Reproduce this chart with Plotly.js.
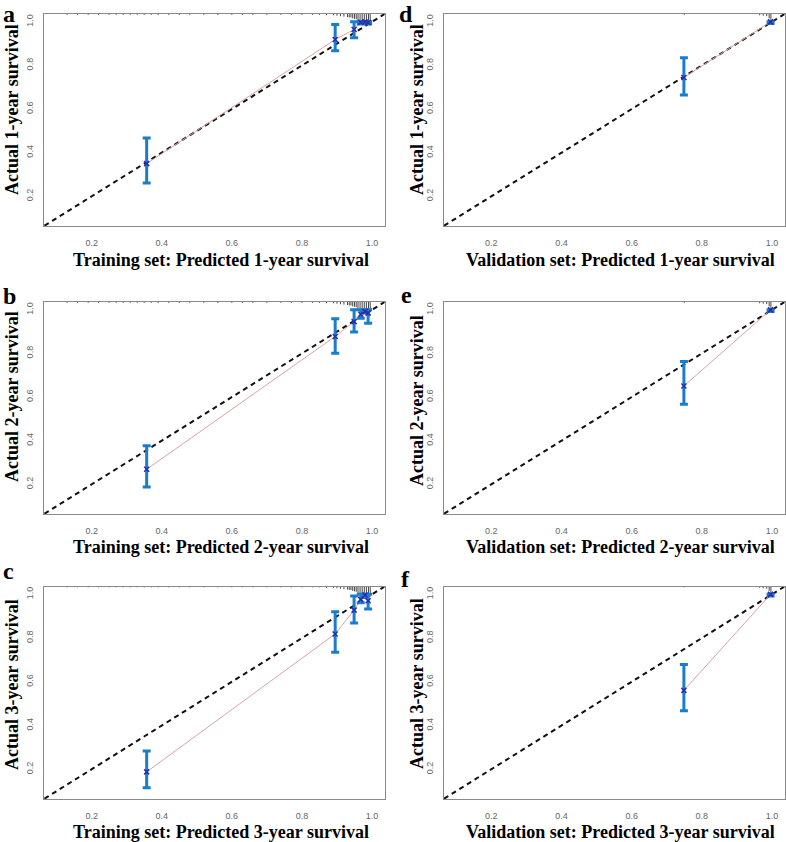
<!DOCTYPE html>
<html>
<head>
<meta charset="utf-8">
<script src="https://cdn.plot.ly/plotly-3.0.1.min.js"></script>
<style>html,body{margin:0;padding:0;background:#fff;}#chart{width:786px;height:842px;}</style>
</head>
<body>
<div id="chart"></div>
<script>
// ---------- data ----------
var panelLetters = ["a", "b", "c", "d", "e", "f"];
var xTitles = [
  "Training set: Predicted 1-year survival",
  "Training set: Predicted 2-year survival",
  "Training set: Predicted 3-year survival",
  "Validation set: Predicted 1-year survival",
  "Validation set: Predicted 2-year survival",
  "Validation set: Predicted 3-year survival"
];
var yTitles = [
  "Actual 1-year survival", "Actual 2-year survival", "Actual 3-year survival",
  "Actual 1-year survival", "Actual 2-year survival", "Actual 3-year survival"
];
var tickVals = [0.2, 0.4, 0.6, 0.8, 1.0];
var tickText = ["0.2", "0.4", "0.6", "0.8", "1.0"];
var refLine = [0, 1.1];

// training set, predicted (x) and observed (y) with CI
var trainPred = [0.357, 0.895, 0.949, 0.968, 0.980, 0.989];
var train1Obs = [0.350, 0.919, 0.965, 0.998, 1.000, 0.997];
var train1Lo  = [0.261, 0.868, 0.927, 0.990, 0.995, 0.990];
var train1Hi  = [0.468, 0.988, 1.000, 1.000, 1.000, 1.000];
var train2Obs = [0.269, 0.878, 0.946, 0.980, 0.992, 0.985];
var train2Lo  = [0.188, 0.801, 0.898, 0.962, 0.985, 0.939];
var train2Hi  = [0.377, 0.959, 1.000, 1.000, 1.000, 1.000];
var train3Obs = [0.188, 0.819, 0.928, 0.977, 0.997, 0.971];
var train3Lo  = [0.115, 0.735, 0.869, 0.962, 0.986, 0.933];
var train3Hi  = [0.284, 0.921, 0.992, 1.000, 1.000, 1.000];

// validation set
var validPred = [0.749, 0.996];
var valid1Obs = [0.745, 1.000];
var valid1Lo  = [0.665, 0.993];
var valid1Hi  = [0.835, 1.000];
var valid2Obs = [0.651, 1.000];
var valid2Lo  = [0.567, 0.993];
var valid2Hi  = [0.763, 1.000];
var valid3Obs = [0.561, 1.000];
var valid3Lo  = [0.468, 0.993];
var valid3Hi  = [0.679, 1.000];

// rug of predicted values (top of each panel): position and relative height
var trainRugX   = [0.13, 0.16, 0.19, 0.22, 0.25, 0.27, 0.29, 0.31, 0.33, 0.35, 0.37, 0.39, 0.42, 0.45, 0.48, 0.52, 0.56, 0.60, 0.63, 0.66, 0.70, 0.74, 0.77, 0.80, 0.83, 0.85, 0.87, 0.89, 0.90, 0.91, 0.92, 0.93, 0.935, 0.94, 0.945, 0.95, 0.955, 0.96, 0.966, 0.972, 0.978, 0.984, 0.99, 0.995];
var trainRugLen = [0.004, 0.004, 0.004, 0.004, 0.004, 0.004, 0.004, 0.004, 0.004, 0.004, 0.004, 0.004, 0.004, 0.004, 0.004, 0.004, 0.004, 0.004, 0.004, 0.004, 0.004, 0.004, 0.004, 0.004, 0.004, 0.004, 0.006, 0.006, 0.008, 0.01, 0.012, 0.014, 0.016, 0.016, 0.02, 0.022, 0.024, 0.03, 0.034, 0.04, 0.044, 0.046, 0.046, 0.046];
var validRugX   = [0.75, 0.965, 0.975, 0.985, 0.992, 0.997];
var validRugLen = [0.004, 0.006, 0.008, 0.01, 0.02, 0.04];

// ---------- layout geometry ----------
var W = 786, H = 842;
var colX = [[44 / W, 384.6 / W], [443.6 / W, 784.6 / W]];
var rowY = [[1 - 226 / H, 1 - 14 / H], [1 - 514 / H, 1 - 302 / H], [1 - 799 / H, 1 - 586.5 / H]];
var axRange = [0.064, 1.036];

var panels = [
  {pred: trainPred, obs: train1Obs, lo: train1Lo, hi: train1Hi, rx: trainRugX, rl: trainRugLen, col: 0, row: 0},
  {pred: trainPred, obs: train2Obs, lo: train2Lo, hi: train2Hi, rx: trainRugX, rl: trainRugLen, col: 0, row: 1},
  {pred: trainPred, obs: train3Obs, lo: train3Lo, hi: train3Hi, rx: trainRugX, rl: trainRugLen, col: 0, row: 2},
  {pred: validPred, obs: valid1Obs, lo: valid1Lo, hi: valid1Hi, rx: validRugX, rl: validRugLen, col: 1, row: 0},
  {pred: validPred, obs: valid2Obs, lo: valid2Lo, hi: valid2Hi, rx: validRugX, rl: validRugLen, col: 1, row: 1},
  {pred: validPred, obs: valid3Obs, lo: valid3Lo, hi: valid3Hi, rx: validRugX, rl: validRugLen, col: 1, row: 2}
];

// title placement (paper px)
var xTitlePos = [[221, 260], [221, 547], [221, 832], [620, 260], [620, 547], [620, 832]];
var yTitlePos = [[12, 110], [12, 397], [12, 685], [417, 110], [417, 401], [417, 684]];
var letterPos = [[9, 14], [9, 296], [8, 571], [406, 14], [406, 295], [405, 579]];

var traces = [];
var layout = {
  width: W, height: H,
  margin: {l: 0, r: 0, t: 0, b: 0},
  paper_bgcolor: "#ffffff",
  plot_bgcolor: "#ffffff",
  showlegend: false,
  annotations: []
};

var serif = "Liberation Serif, Times New Roman, serif";

panels.forEach(function (p, i) {
  var n = i + 1;
  var xa = n === 1 ? "x" : "x" + n;
  var ya = n === 1 ? "y" : "y" + n;
  var xk = n === 1 ? "xaxis" : "xaxis" + n;
  var yk = n === 1 ? "yaxis" : "yaxis" + n;

  var axBase = {
    range: axRange.slice(),
    showgrid: false, zeroline: false,
    showline: true, mirror: true, linecolor: "#8a8a8a", linewidth: 1,
    ticks: "outside", tickcolor: "rgba(0,0,0,0)",
    tickvals: tickVals, ticktext: tickText,
    tickfont: {family: "Liberation Sans, Arial, sans-serif", size: 9, color: "#666666"},
    fixedrange: true
  };
  layout[xk] = Object.assign({}, axBase, {domain: colX[p.col], anchor: ya, ticklen: 8});
  layout[yk] = Object.assign({}, axBase, {domain: rowY[p.row], anchor: xa, tickangle: -90, ticklen: 6});

  // reference diagonal
  traces.push({
    x: refLine, y: refLine, xaxis: xa, yaxis: ya, mode: "lines", hoverinfo: "skip",
    line: {color: "#111111", width: 2, dash: "5px,4px"}
  });

  // rug at the top
  var top = axRange[1];
  var rx = [], ry = [];
  p.rx.forEach(function (v, k) {
    rx.push(v, v, null);
    ry.push(top, top - p.rl[k], null);
  });
  traces.push({
    x: rx, y: ry, xaxis: xa, yaxis: ya, mode: "lines", hoverinfo: "skip",
    line: {color: "#444444", width: 1}, connectgaps: false
  });

  // calibration curve (thin pink line)
  traces.push({
    x: p.pred, y: p.obs, xaxis: xa, yaxis: ya, mode: "lines",
    line: {color: "#dba3a3", width: 1}
  });

  // observed points with 95% CI
  traces.push({
    x: p.pred, y: p.obs, xaxis: xa, yaxis: ya, mode: "markers",
    marker: {symbol: "x-thin", size: 5, color: "#2b2bb0", line: {color: "#2b2bb0", width: 1.5}},
    error_y: {
      type: "data", symmetric: false,
      array: p.hi.map(function (h, k) { return h - p.obs[k]; }),
      arrayminus: p.lo.map(function (l, k) { return p.obs[k] - l; }),
      color: "#1a7ccc", thickness: 3, width: 4
    }
  });

  // titles
  layout.annotations.push({
    xref: "paper", yref: "paper", x: xTitlePos[i][0] / W, y: 1 - xTitlePos[i][1] / H,
    xanchor: "center", yanchor: "middle", showarrow: false,
    text: "<b>" + xTitles[i] + "</b>",
    font: {family: serif, size: 18, color: "#000000"}
  });
  layout.annotations.push({
    xref: "paper", yref: "paper", x: yTitlePos[i][0] / W, y: 1 - yTitlePos[i][1] / H,
    xanchor: "center", yanchor: "middle", showarrow: false, textangle: -90,
    text: "<b>" + yTitles[i] + "</b>",
    font: {family: serif, size: 18, color: "#000000"}
  });
  layout.annotations.push({
    xref: "paper", yref: "paper", x: letterPos[i][0] / W, y: 1 - letterPos[i][1] / H,
    xanchor: "center", yanchor: "middle", showarrow: false,
    text: "<b>" + panelLetters[i] + "</b>",
    font: {family: serif, size: 24, color: "#000000"}
  });
});

Plotly.newPlot("chart", traces, layout, {displayModeBar: false, staticPlot: true});
</script>
</body>
</html>
